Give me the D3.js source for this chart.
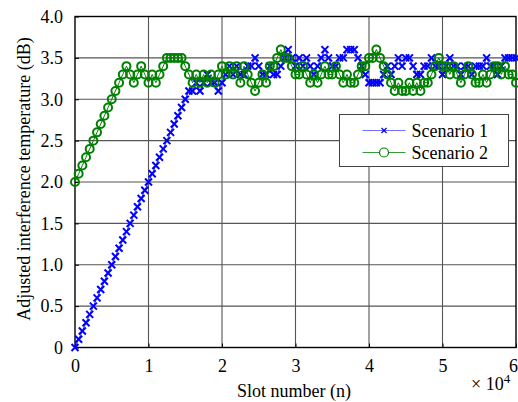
<!DOCTYPE html>
<html>
<head>
<meta charset="utf-8">
<script src="https://cdn.jsdelivr.net/npm/d3@7"></script>
<style>
  body { margin: 0; background: #fff; }
  svg { display: block; font-family: "Liberation Serif", "Times New Roman", serif; }
</style>
</head>
<body>
<div id="chart"></div>
<script>
// sample every 500 slots, 0 .. 60000
const slotStep = 500;
const xTicks = [0, 1, 2, 3, 4, 5, 6];
const yTicks = [0, 0.5, 1.0, 1.5, 2.0, 2.5, 3.0, 3.5, 4.0];
const seriesNames = ['Scenario 1', 'Scenario 2'];

const scenario1 = [
  0.0, 0.1, 0.2, 0.3, 0.4, 0.5, 0.6, 0.7, 0.8, 0.9,
  1.0, 1.1, 1.2, 1.3, 1.4, 1.5, 1.6, 1.7, 1.8, 1.9,
  2.0, 2.1, 2.2, 2.3, 2.4, 2.5, 2.6, 2.7, 2.8, 2.9,
  3.0, 3.1, 3.1, 3.2, 3.1, 3.2, 3.3, 3.2, 3.2, 3.1,
  3.2, 3.3, 3.4, 3.3, 3.4, 3.3, 3.3, 3.4, 3.4, 3.5,
  3.4, 3.3, 3.3, 3.4, 3.3, 3.3, 3.4, 3.5, 3.6, 3.5,
  3.4, 3.5, 3.4, 3.5, 3.4, 3.3, 3.4, 3.5, 3.6, 3.5,
  3.4, 3.4, 3.5, 3.5, 3.6, 3.6, 3.6, 3.5, 3.4, 3.3,
  3.2, 3.2, 3.2, 3.2, 3.3, 3.4, 3.3, 3.4, 3.5, 3.4,
  3.5, 3.5, 3.4, 3.3, 3.3, 3.4, 3.4, 3.5, 3.4, 3.4,
  3.3, 3.4, 3.5, 3.4, 3.4, 3.3, 3.4, 3.4, 3.3, 3.4,
  3.4, 3.4, 3.5, 3.4, 3.4, 3.3, 3.4, 3.5, 3.5, 3.5,
  3.5
];

const scenario2 = [
  2.0, 2.1, 2.2, 2.3, 2.4, 2.5, 2.6, 2.7, 2.8, 2.9,
  3.0, 3.1, 3.2, 3.3, 3.4, 3.3, 3.2, 3.3, 3.4, 3.3,
  3.2, 3.3, 3.2, 3.3, 3.4, 3.5, 3.5, 3.5, 3.5, 3.5,
  3.4, 3.3, 3.2, 3.3, 3.2, 3.3, 3.2, 3.3, 3.2, 3.3,
  3.4, 3.3, 3.4, 3.3, 3.4, 3.2, 3.4, 3.3, 3.2, 3.1,
  3.2, 3.3, 3.2, 3.4, 3.4, 3.5, 3.6, 3.5, 3.5, 3.4,
  3.3, 3.3, 3.4, 3.3, 3.2, 3.3, 3.2, 3.3, 3.4, 3.3,
  3.3, 3.4, 3.3, 3.2, 3.3, 3.2, 3.2, 3.3, 3.4, 3.4,
  3.5, 3.5, 3.6, 3.5, 3.4, 3.3, 3.2, 3.1, 3.2, 3.1,
  3.1, 3.2, 3.1, 3.2, 3.1, 3.2, 3.2, 3.3, 3.4, 3.5,
  3.4, 3.4, 3.3, 3.4, 3.3, 3.2, 3.3, 3.4, 3.3, 3.2,
  3.2, 3.3, 3.2, 3.3, 3.4, 3.4, 3.3, 3.4, 3.3, 3.3,
  3.2
];

!(function () {
  let
    width = 518,
    height = 402,
    m = { left: 75, right: 2, top: 16.5, bottom: 54.5 },
    x = d3.scaleLinear().domain([0, 6e4]).range([m.left, width - m.right]),
    y = d3.scaleLinear().domain([0, 4]).range([height - m.bottom, m.top]);

  let svg = d3.select('#chart')
    .append('svg')
    .attr('width', width)
    .attr('height', height);

  // grid
  svg.append('g')
    .selectAll('line')
    .data(xTicks.slice(1, -1))
    .enter()
    .append('line')
    .attr('x1', d => x(d * 1e4)).attr('x2', d => x(d * 1e4))
    .attr('y1', y(0)).attr('y2', y(4))
    .attr('stroke', '#555').attr('stroke-width', 1.1);

  svg.append('g')
    .selectAll('line')
    .data(yTicks.slice(1, -1))
    .enter()
    .append('line')
    .attr('y1', d => y(d)).attr('y2', d => y(d))
    .attr('x1', x(0)).attr('x2', x(6e4))
    .attr('stroke', '#555').attr('stroke-width', 1.1);

  // axes
  let fmtY = d => d === 0 ? '0' : d3.format('.1f')(d);

  let xAxis = svg.append('g')
    .attr('transform', 'translate(0,' + y(0) + ')')
    .call(d3.axisBottom(x).tickValues(xTicks.map(d => d * 1e4))
      .tickFormat(d => d / 1e4).tickSizeInner(-4).tickSizeOuter(0).tickPadding(12));

  let yAxis = svg.append('g')
    .attr('transform', 'translate(' + x(0) + ',0)')
    .call(d3.axisLeft(y).tickValues(yTicks)
      .tickFormat(fmtY).tickSizeInner(-4).tickSizeOuter(0).tickPadding(12));

  [xAxis, yAxis].forEach(function (g) {
    g.select('.domain').remove();
    g.selectAll('.tick line').attr('stroke', '#000');
    g.selectAll('text')
      .attr('fill', '#000')
      .style('font-size', '18px')
      .style('font-family', '"Liberation Serif", serif');
  });

  // last x label sits against the page edge
  xAxis.selectAll('.tick text')
    .filter(d => d === 6e4)
    .attr('dx', -3);

  // plot box
  svg.append('rect')
    .attr('x', x(0)).attr('y', y(4))
    .attr('width', x(6e4) - x(0)).attr('height', y(0) - y(4))
    .attr('fill', 'none').attr('stroke', '#000').attr('stroke-width', 1.4);

  // series
  let line = d3.line()
    .x((d, i) => x(i * slotStep))
    .y(d => y(d));

  let crossPath = 'M-3.5,-3.5L3.5,3.5M-3.5,3.5L3.5,-3.5';

  svg.append('path')
    .datum(scenario1)
    .attr('d', line)
    .attr('fill', 'none')
    .attr('stroke', '#2222ff')
    .attr('stroke-width', 1);

  svg.append('g')
    .selectAll('path')
    .data(scenario1)
    .enter()
    .append('path')
    .attr('transform', (d, i) => 'translate(' + x(i * slotStep) + ',' + y(d) + ')')
    .attr('d', crossPath)
    .attr('stroke', '#0000ff')
    .attr('stroke-width', 2)
    .attr('fill', 'none');

  svg.append('path')
    .datum(scenario2)
    .attr('d', line)
    .attr('fill', 'none')
    .attr('stroke', '#008000')
    .attr('stroke-width', 1);

  svg.append('g')
    .selectAll('circle')
    .data(scenario2)
    .enter()
    .append('circle')
    .attr('cx', (d, i) => x(i * slotStep))
    .attr('cy', d => y(d))
    .attr('r', 4)
    .attr('fill', 'none')
    .attr('stroke', '#008000')
    .attr('stroke-width', 2);

  // legend
  let lg = svg.append('g').attr('transform', 'translate(339.5,114.5)');
  lg.append('rect')
    .attr('width', 169).attr('height', 52)
    .attr('fill', '#fff').attr('stroke', '#444').attr('stroke-width', 1);

  let rows = lg.selectAll('g.row')
    .data(seriesNames)
    .enter()
    .append('g')
    .attr('class', 'row')
    .attr('transform', (d, i) => 'translate(0,' + (16 + i * 22) + ')');

  rows.append('line')
    .attr('x1', 23).attr('x2', 66).attr('y1', 0).attr('y2', 0)
    .attr('stroke', (d, i) => i === 0 ? '#6f6fff' : '#3a9a3a')
    .attr('stroke-width', 1.2);

  rows.each(function (d, i) {
    let r = d3.select(this);
    if (i === 0) {
      r.append('path').attr('transform', 'translate(44.5,0)')
        .attr('d', 'M-2.5,-2.5L2.5,2.5M-2.5,2.5L2.5,-2.5')
        .attr('stroke', '#0000ff').attr('stroke-width', 1.2);
    } else {
      r.append('circle').attr('cx', 44.5).attr('cy', 0).attr('r', 4.5)
        .attr('fill', '#fff').attr('stroke', '#008000').attr('stroke-width', 1.2);
    }
  });

  rows.append('text')
    .attr('x', 72).attr('y', 6)
    .style('font-size', '18px')
    .text(d => d);

  // axis titles
  svg.append('text')
    .attr('x', 294).attr('y', 397)
    .attr('text-anchor', 'middle')
    .style('font-size', '18px')
    .text('Slot number (n)');

  let sc = svg.append('text')
    .attr('x', 471).attr('y', 390)
    .style('font-size', '18px');
  sc.append('tspan').text('\u00d7 10');
  sc.append('tspan').attr('dy', -7).style('font-size', '13px').text('4');

  svg.append('text')
    .attr('transform', 'translate(30,179) rotate(-90)')
    .attr('text-anchor', 'middle')
    .style('font-size', '18px')
    .text('Adjusted interference temperature (dB)');
}());
</script>
</body>
</html>
